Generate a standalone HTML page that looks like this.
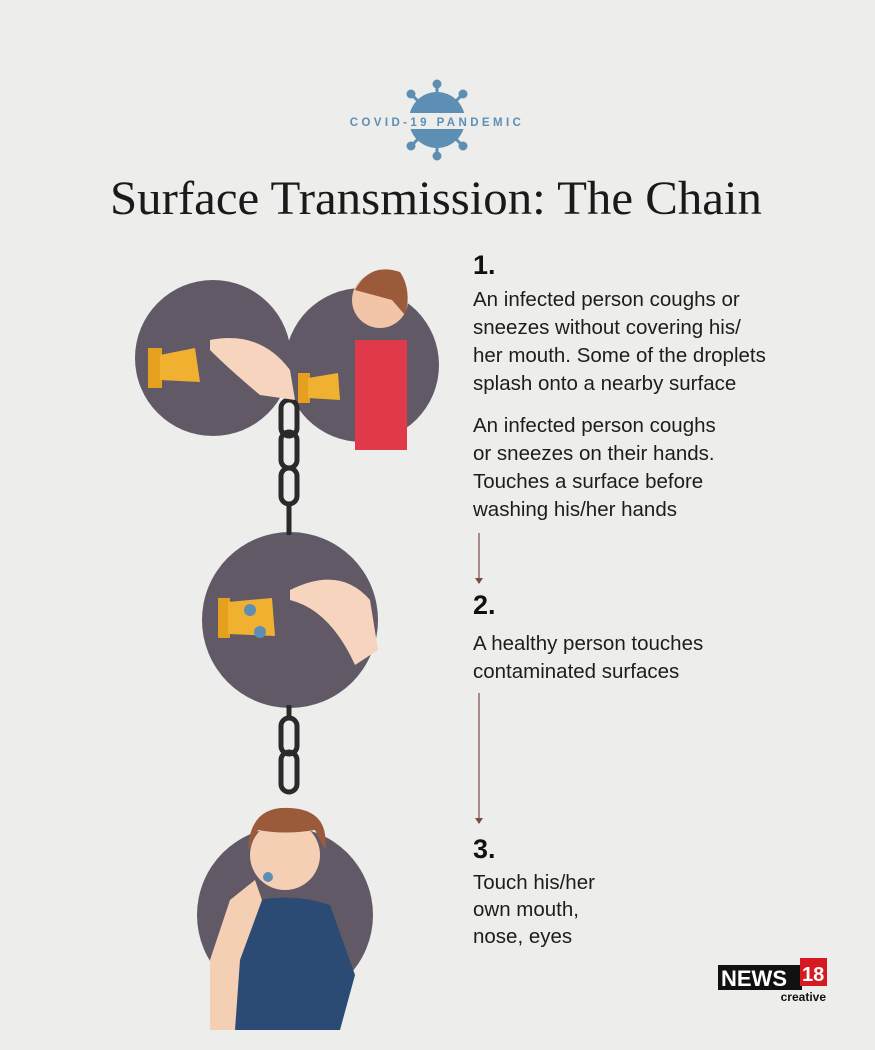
<!DOCTYPE html>
<html><head><style>
body{margin:0;width:875px;height:1050px;background:#ededeb;position:relative;overflow:hidden;font-family:"Liberation Sans",sans-serif;}
.t{position:absolute;left:473px;color:#1d1d1d;font-size:20.5px;line-height:28px;}
.n{position:absolute;left:473px;font-weight:bold;font-size:27px;color:#111;}
</style></head><body>
<svg width="875" height="1050" style="position:absolute;left:0;top:0">
 <g fill="#5d8fb5" stroke="#5d8fb5">
  <circle cx="437" cy="120" r="28" stroke="none"/>
  <g stroke-width="3">
   <line x1="437" y1="85" x2="437" y2="155"/><line x1="402" y1="120" x2="472" y2="120"/>
   <line x1="412" y1="95" x2="462" y2="145"/><line x1="462" y1="95" x2="412" y2="145"/>
  </g>
  <circle cx="437" cy="84" r="4"/><circle cx="437" cy="156" r="4"/><circle cx="411" cy="94" r="4"/><circle cx="463" cy="94" r="4"/><circle cx="411" cy="146" r="4"/><circle cx="463" cy="146" r="4"/>
 </g>
 <rect x="340" y="113" width="200" height="16" fill="#ededeb"/>
 <text x="437" y="126" text-anchor="middle" font-family="Liberation Sans" font-weight="bold" font-size="11.5" letter-spacing="3.4" fill="#5d8fb5">COVID-19 PANDEMIC</text>
 <text x="436" y="214" text-anchor="middle" font-family="Liberation Serif" font-size="48" textLength="652" lengthAdjust="spacingAndGlyphs" fill="#1a1a1a">Surface Transmission: The Chain</text>
 <g fill="#615a66">
  <circle cx="213" cy="358" r="78"/><circle cx="362" cy="365" r="77"/>
  <circle cx="290" cy="620" r="88"/><circle cx="285" cy="915" r="88"/>
 </g>
 <g fill="none" stroke="#2a2a2a" stroke-width="5">
  <rect x="281" y="400" width="16" height="36" rx="8"/><rect x="281" y="432" width="16" height="36" rx="8"/><rect x="281" y="468" width="16" height="36" rx="8"/><line x1="289" y1="504" x2="289" y2="535"/>
  <line x1="289" y1="705" x2="289" y2="720"/><rect x="281" y="718" width="16" height="36" rx="8"/><rect x="281" y="752" width="16" height="40" rx="8"/>
 </g>
 <rect x="355" y="340" width="52" height="110" fill="#e0394a"/>
 <circle cx="380" cy="300" r="28" fill="#f2c4a8"/><path d="M355 290 Q370 262 400 272 Q412 290 405 315 L392 300 Z" fill="#9b5a3a"/>
 <rect x="148" y="348" width="14" height="40" fill="#e6a020"/><path d="M160 355 L195 348 L200 382 L160 380Z" fill="#f0b030"/>
 <path d="M210 340 Q260 330 290 370 L295 400 L260 395 Q230 370 210 350Z" fill="#f6d4bd"/>
 <rect x="298" y="373" width="12" height="30" fill="#e6a020"/><path d="M308 378 L338 373 L340 400 L308 398Z" fill="#f0b030"/>
 <rect x="218" y="598" width="12" height="40" fill="#e6a020"/><path d="M228 602 L272 598 L275 636 L228 634Z" fill="#f0b030"/>
 <circle cx="250" cy="610" r="6" fill="#5d8fb5"/><circle cx="260" cy="632" r="6" fill="#5d8fb5"/>
 <path d="M290 590 Q340 565 370 600 L378 650 L355 665 Q330 610 290 600Z" fill="#f6d4bd"/>
 <path d="M240 905 Q285 890 330 905 L355 975 L340 1030 L230 1030 L215 975Z" fill="#2c4b74"/>
 <circle cx="285" cy="855" r="35" fill="#f5cfb3"/><path d="M248 850 Q250 805 290 808 Q330 810 325 850 L315 830 Q285 835 258 830Z" fill="#9b5a3a"/>
 <path d="M210 960 L230 900 L255 880 L262 900 L240 960 L235 1030 L210 1030Z" fill="#f5cfb3"/>
 <circle cx="268" cy="877" r="5" fill="#5d8fb5"/>
 <g stroke="#7a4a44" stroke-width="1.2">
  <line x1="479" y1="533" x2="479" y2="578"/><line x1="479" y1="693" x2="479" y2="818"/>
 </g>
 <path d="M475 578 L483 578 L479 584Z M475 818 L483 818 L479 824Z" fill="#7a4a44"/>
 <rect x="718" y="965" width="84" height="25" fill="#111"/>
 <text x="721" y="986" font-family="Liberation Sans" font-weight="bold" font-size="22" fill="#fff">NEWS</text>
 <rect x="800" y="958" width="27" height="28" fill="#d71920"/>
 <text x="802" y="981" font-family="Liberation Sans" font-weight="bold" font-size="20" fill="#fff">18</text>
 <text x="826" y="1001" text-anchor="end" font-family="Liberation Sans" font-weight="bold" font-size="12" fill="#111">creative</text>
</svg>
<div class="n" style="top:250px">1.</div>
<div class="t" style="top:286px">An infected person coughs or<br>sneezes without covering his/<br>her mouth. Some of the droplets<br>splash onto a nearby surface</div>
<div class="t" style="top:412px">An infected person coughs<br>or sneezes on their hands.<br>Touches a surface before<br>washing his/her hands</div>
<div class="n" style="top:590px">2.</div>
<div class="t" style="top:630px">A healthy person touches<br>contaminated surfaces</div>
<div class="n" style="top:834px">3.</div>
<div class="t" style="top:869px;line-height:27px">Touch his/her<br>own mouth,<br>nose, eyes</div>
</body></html>
